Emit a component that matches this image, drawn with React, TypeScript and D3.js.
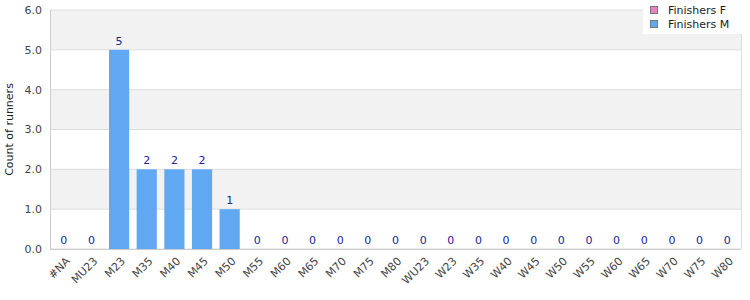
import React from "react";
import * as d3 from "d3";

const categories = ["#NA","MU23","M23","M35","M40","M45","M50","M55","M60","M65","M70","M75","M80","WU23","W23","W35","W40","W45","W50","W55","W60","W65","W70","W75","W80"];
const finishersM = [0,0,5,2,2,2,1,0,0,0,0,0,0,0,0,0,0,0,0,0,0,0,0,0,0];
const yTicks = [0,1,2,3,4,5,6];
const seriesNames = ["Finishers F","Finishers M"];
const seriesColors = ["#f07fc0","#61a8f3"];

export default function App() {
  const W = 750, H = 300;
  const m = { left: 50, right: 9, top: 10, bottom: 51 };
  const x = d3.scaleBand<string>().domain(categories).range([m.left, W - m.right]).paddingInner(0.27).paddingOuter(0.135);
  const y = d3.scaleLinear().domain([0, 6]).range([H - m.bottom, m.top]);
  const font = "DejaVu Sans, Verdana, sans-serif";
  const bandCenter = (c: string) => (x(c) as number) + x.bandwidth() / 2;
  return (
    <svg width={W} height={H} style={{ position: "absolute", left: 0, top: 0 }} fontFamily={font}>
      {yTicks.slice(0, -1).map((t, i) => (
        <rect key={"b" + t} x={m.left} y={y(t + 1)} width={W - m.right - m.left} height={y(t) - y(t + 1)} fill={i % 2 === 1 ? "#f2f2f2" : "#ffffff"} />
      ))}
      {yTicks.map(t => (
        <line key={"g" + t} x1={m.left} x2={W - m.right} y1={y(t)} y2={y(t)} stroke="#dddddd" />
      ))}
      <line x1={W - m.right + 0.5} x2={W - m.right + 0.5} y1={m.top} y2={H - m.bottom} stroke="#dddddd" />
      <line x1={m.left + 0.5} x2={m.left + 0.5} y1={m.top} y2={H - m.bottom} stroke="#cccccc" />
      <line x1={m.left} x2={W - m.right} y1={H - m.bottom + 0.5} y2={H - m.bottom + 0.5} stroke="#cccccc" />
      {yTicks.map(t => (
        <text key={"yt" + t} x={m.left - 8} y={y(t)} dy="0.35em" textAnchor="end" fontSize={11} fill="#444">{t.toFixed(1)}</text>
      ))}
      <text transform={`translate(9,${(m.top + H - m.bottom) / 2}) rotate(-90)`} textAnchor="middle" dy="0.35em" fontSize={11} fill="#222">Count of runners</text>
      {categories.map((c, i) => (
        <rect key={"bar" + c} x={x(c)} y={y(finishersM[i])} width={x.bandwidth()} height={y(0) - y(finishersM[i])} fill={seriesColors[1]} />
      ))}
      {categories.map((c, i) => (
        <text key={"v" + c} x={bandCenter(c)} y={y(finishersM[i]) - 5} textAnchor="middle" fontSize={11} fill="#22229a">{finishersM[i]}</text>
      ))}
      {categories.map(c => (
        <text key={"xl" + c} transform={`translate(${bandCenter(c) + 4},${H - m.bottom + 10}) rotate(-45)`} textAnchor="end" dy="0.35em" fontSize={11} fill="#444">{c}</text>
      ))}
      <g>
        <rect x={643} y={0} width={99} height={34} fill="#ffffff" />
        {seriesNames.map((s, i) => (
          <g key={s}>
            <rect x={650.5} y={6.5 + i * 14} width={7} height={7} fill={seriesColors[i]} stroke="#777" />
            <text x={668} y={10 + i * 14} dy="0.35em" fontSize={11} fill="#222">{s}</text>
          </g>
        ))}
      </g>
    </svg>
  );
}
